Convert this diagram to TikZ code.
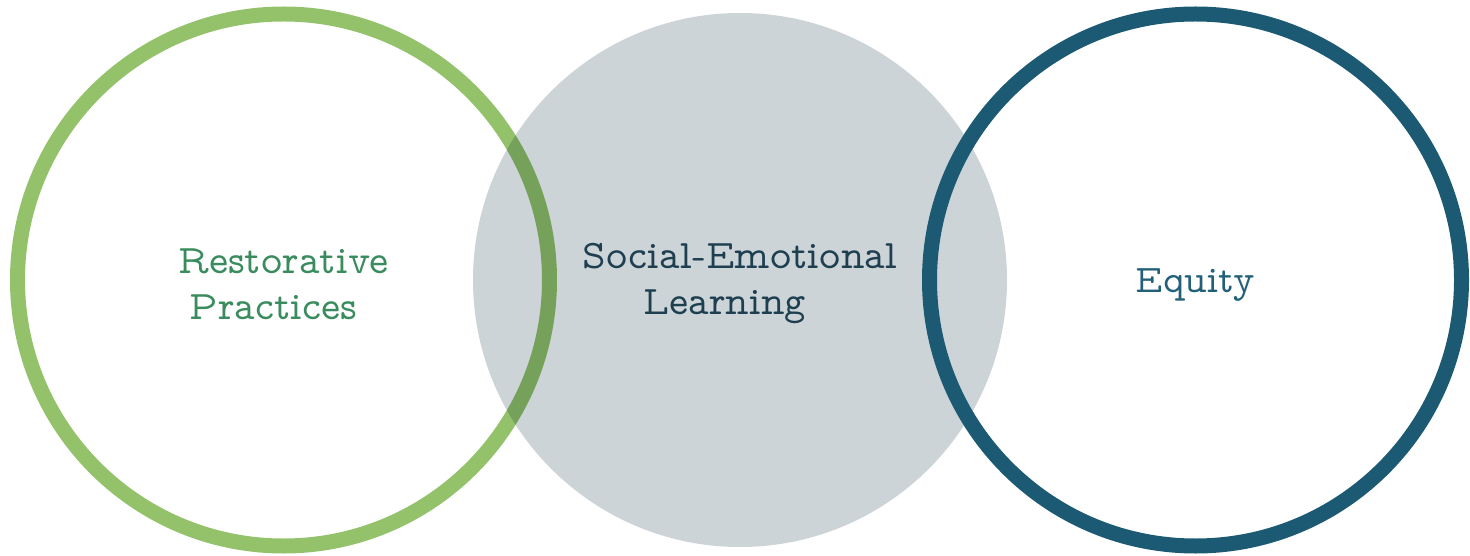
\documentclass[tikz,border=0pt]{standalone}
\usepackage{tikz}
\usetikzlibrary{positioning}

\definecolor{rpgreen}{HTML}{93C26B}
\definecolor{rptext}{HTML}{3A8C5F}
\definecolor{selgray}{HTML}{CDD4D8}
\definecolor{seltext}{HTML}{1E3F50}
\definecolor{eqteal}{HTML}{1C5A73}
\definecolor{eqtext}{HTML}{22607A}

\newcommand{\slabfont}{\fontfamily{lmvtt}\fontseries{m}\selectfont}

\tikzset{
	ring/.style={circle, minimum size=532pt, inner sep=0pt, line width=15pt},
	blob/.style={circle, minimum size=534pt, inner sep=0pt},
	label text/.style={align=center, font=\slabfont\fontsize{40.5}{46}\selectfont}
}

\begin{document}
\begin{tikzpicture}[x=1pt, y=1pt]
\useasboundingbox (0,0) rectangle (1470,555);
% the three circles
\node[ring, draw=rpgreen] (rp) at (283.5,275) {};
\node[blob, fill=selgray, blend mode=multiply] (sel) at (740,275) {};
\node[ring, draw=eqteal] (eq) at (1195.5,275) {};
% the texts
\node[label text, text=rptext] (rptxt) at ([yshift=-4pt]rp.center) {Restorative\\Practices\hspace*{20pt}};
\node[label text, text=seltext] (seltxt) at ([yshift=-4pt]sel.center) {Social-Emotional\\Learning\hspace*{30pt}};
\node[label text, text=eqtext, font=\slabfont\fontsize{39}{46}\selectfont] (eqtxt) at ([yshift=-5pt]eq.center) {Equity};
\end{tikzpicture}
\end{document}
